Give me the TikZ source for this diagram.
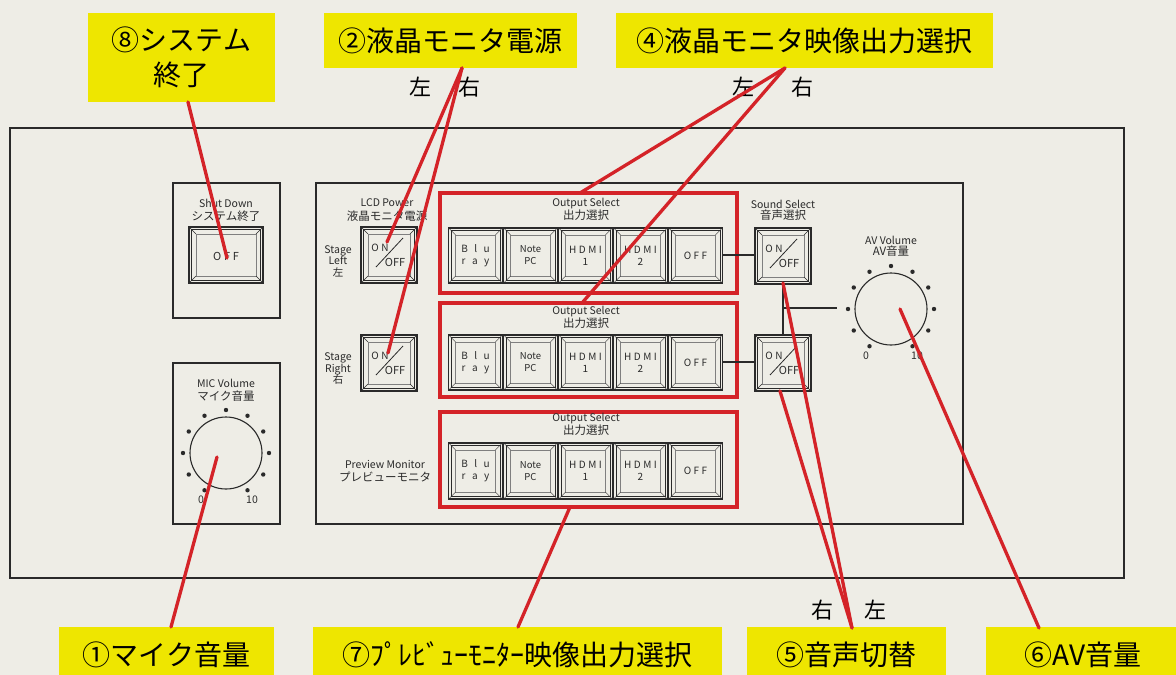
\documentclass[tikz,border=0pt]{standalone}
\usepackage{fontspec}
\setmainfont{Noto Sans CJK JP}
\newfontfamily\lsfont[LetterSpace=25]{Noto Sans CJK JP}
\definecolor{paper}{HTML}{EEEDE6}
\definecolor{ylw}{HTML}{EEE600}
\definecolor{rd}{HTML}{D42328}
\definecolor{ink}{HTML}{2A2A2A}
% push button: x1 y1 x2 y2
\newcommand\pbtn[4]{%
  \draw[ink,line width=1.3pt] (#1,#2) rectangle (#3,#4);
  \draw[ink,line width=0.5pt] (#1+2.5,#2+2.5) rectangle (#3-2.5,#4-2.5);
  \draw[ink!60,line width=0.6pt] (#1+7,#2+7) rectangle (#3-7,#4-7);
  \draw[ink,line width=0.4pt] (#1,#2)--(#1+7,#2+7) (#3,#2)--(#3-7,#2+7)
     (#1,#4)--(#1+7,#4-7) (#3,#4)--(#3-7,#4-7);
}
% on/off button: name x1 y1
\newcommand\onoff[3]{%
  \pbtn{#2}{#3}{#2+56}{#3+56}
  \node[btxt] (#1on) at (#2+19,#3+21) {ON};
  \node[btxt,font=\fontsize{11}{12}\selectfont] (#1off) at (#2+34,#3+35) {OFF};
  \draw[ink,line width=0.8pt] (#2+15,#3+40) -- (#2+42,#3+11);
}
% output select row: id ytop ybot
\newcommand\orow[3]{%
  \foreach \i in {0,...,4}{%
    \pgfmathsetmacro\xa{448+55*\i}\pgfmathsetmacro\xb{\xa+55}%
    \pbtn{\xa+0.6}{#2}{\xb-0.6}{#3}%
  }
  \node[btxt,align=center] (#1a) at (475.5,#2/2+#3/2) {B\,\ l\,\ u\\r\,\ a\,\ y};
  \node[btxt,align=center,font=\fontsize{9.5}{12}\selectfont] (#1b) at (530.5,#2/2+#3/2) {Note\\PC};
  \node[btxt,align=center] (#1c) at (585.5,#2/2+#3/2) {HDMI\\1};
  \node[btxt,align=center] (#1d) at (640.5,#2/2+#3/2) {HDMI\\2};
  \node[btxt] (#1e) at (695.5,#2/2+#3/2) {OFF};
}
% dial: cx cy
\newcommand\dial[3]{%
  \draw[ink,line width=1.1pt] (#2,#3) circle[radius=36pt];
  \foreach \a in {-60,-30,...,240}{\fill[ink] (#2,#3) ++(-\a:43) circle[radius=2.2pt];}
  \node[small] (#1z) at (#2-25,#3+47) {0};
  \node[small] (#1t) at (#2+26,#3+47) {10};
}
\begin{document}
\begin{tikzpicture}[x=1pt,y=-1pt,
  lab/.style={fill=ylw,text=black,inner sep=0pt,align=center,font=\fontsize{28}{35}\selectfont},
  small/.style={text=ink,inner sep=0pt,align=center,font=\fontsize{10.5}{11.5}\selectfont},
  jp/.style={text=ink,inner sep=0pt,font=\fontsize{11.5}{13}\selectfont},
  btxt/.style={text=ink,inner sep=0pt,font=\lsfont\fontsize{10}{12}\selectfont},
  lr/.style={text=black,inner sep=0pt,font=\fontsize{22}{24}\selectfont},
  redline/.style={draw=rd,line width=3.3pt,line cap=round},
  redbox/.style={draw=rd,line width=3.6pt},
  wire/.style={draw=ink,line width=1.1pt},
  frame/.style={draw=ink,line width=1.4pt}]
\useasboundingbox (0,0) rectangle (1176,675);
\fill[paper] (0,0) rectangle (1176,675);

% panels
\draw[frame] (10,128) rectangle (1124,578);
\draw[frame] (316,183) rectangle (963,524);
\draw[frame] (173,183) rectangle (280,318);
\draw[frame] (173,363) rectangle (280,524);

% shut down
\node[small] (sdt) at (226,203) {Shut Down};
\node[jp] (sdj) at (226,216) {システム終了};
\pbtn{189}{227}{263}{283}
\node[btxt,font=\lsfont\fontsize{11}{12}\selectfont] (sdoff) at (226,256) {OFF};

% LCD power
\node[small] (lcdt) at (387,203) {LCD Power};
\node[jp] (lcdj) at (387,216) {液晶モニタ電源};
\node[small] (stl) at (338,261) {Stage\\Left\\左};
\node[small] (str) at (338,369) {Stage\\Right\\右};
\onoff{pl}{361}{227}
\onoff{pr}{361}{335}

% output select
\draw[redbox] (440,193) rectangle (737,293);
\draw[redbox] (440,303) rectangle (737,397);
\draw[redbox] (440,412) rectangle (737,507);
\node[small] (os1) at (586,204) {Output Select};
\node[jp] (oj1) at (586,215.5) {出力選択};
\node[small] (os2) at (586,312) {Output Select};
\node[jp] (oj2) at (586,323.5) {出力選択};
\node[small] (os3) at (586,419) {Output Select};
\node[jp] (oj3) at (586,430.5) {出力選択};
\orow{ra}{228}{283}
\orow{rb}{335}{390}
\orow{rc}{443}{499}
\node[small] (pvt) at (385,464) {Preview Monitor};
\node[jp] (pvj) at (385,477) {プレビューモニタ};

% sound select
\node[small] (sst) at (783,204) {Sound Select};
\node[jp] (ssj) at (783,215.5) {音声選択};
\onoff{sa}{755}{228}
\onoff{sb}{755}{335}
\coordinate (ra-out) at (723,255);
\coordinate (sa-in) at (755,255);
\coordinate (rb-out) at (723,362);
\coordinate (sb-in) at (755,362);
\coordinate (sa-bot) at (783,284);
\coordinate (sb-top) at (783,335);
\coordinate (tee) at (783,308);
\coordinate (av-in) at (837,308);
\draw[wire] (ra-out) -- (sa-in);
\draw[wire] (rb-out) -- (sb-in);
\draw[wire] (sa-bot) -- (sb-top);
\draw[wire] (tee) -- (av-in);

% AV volume
\node[small] (avt) at (891,240) {AV Volume};
\node[jp] (avj) at (891,251.5) {AV音量};
\dial{av}{891}{309}

% MIC volume
\node[small] (mct) at (226,383) {MIC Volume};
\node[jp] (mcj) at (226,396) {マイク音量};
\dial{mc}{226}{453}

% yellow labels
\node[lab,minimum width=187pt,minimum height=89pt] (l8) at (181.5,57.5) {⑧システム\\終了};
\node[lab,minimum width=253pt,minimum height=55pt] (l2) at (450.5,40.5) {②液晶モニタ電源};
\node[lab,minimum width=377pt,minimum height=55pt] (l4) at (804.5,40.5) {④液晶モニタ映像出力選択};
\node[lab,minimum width=215pt,minimum height=56pt] (l1) at (166.5,655) {①マイク音量};
\node[lab,minimum width=409pt,minimum height=56pt] (l7) at (517.5,655) {⑦ﾌﾟﾚﾋﾞｭｰﾓﾆﾀｰ映像出力選択};
\node[lab,minimum width=199pt,minimum height=56pt] (l5) at (846.5,655) {⑤音声切替};
\node[lab,minimum width=194pt,minimum height=56pt] (l6) at (1083,655) {⑥AV音量};

\node[lr] (h2l) at (420,87) {左};
\node[lr] (h2r) at (469,87) {右};
\node[lr] (h4l) at (743,87) {左};
\node[lr] (h4r) at (802,87) {右};
\node[lr] (h5r) at (822,610) {右};
\node[lr] (h5l) at (875,610) {左};

% red pointers
\coordinate (a8) at (188,102);
\coordinate (t8) at (227,258);
\coordinate (a2) at (462,68);
\coordinate (t2l) at (387,242);
\coordinate (t2r) at (388,353);
\coordinate (a4) at (785,68);
\coordinate (t4l) at (580,193);
\coordinate (t4r) at (582,303);
\coordinate (a1) at (171,627);
\coordinate (t1) at (217,457);
\coordinate (a7) at (518,627);
\coordinate (t7) at (570,507);
\coordinate (a5) at (852,628);
\coordinate (t5l) at (783,283);
\coordinate (t5r) at (780,391);
\coordinate (a6) at (1039,628);
\coordinate (t6) at (900,309);
\draw[redline] (a8) -- (t8);
\draw[redline] (a2) -- (t2l);
\draw[redline] (a2) -- (t2r);
\draw[redline] (a4) -- (t4l);
\draw[redline] (a4) -- (t4r);
\draw[redline] (a1) -- (t1);
\draw[redline] (a7) -- (t7);
\draw[redline] (a5) -- (t5l);
\draw[redline] (a5) -- (t5r);
\draw[redline] (a6) -- (t6);
\end{tikzpicture}
\end{document}
